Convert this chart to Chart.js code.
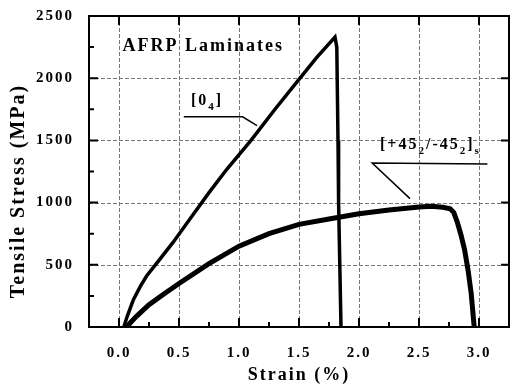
<!DOCTYPE html>
<html>
<head>
<meta charset="utf-8">
<script src="https://cdn.jsdelivr.net/npm/chart.js@4.4.0/dist/chart.umd.min.js"></script>
<style>
  html, body { margin: 0; padding: 0; background: #fff; }
</style>
</head>
<body>
<canvas id="myChart" width="510" height="387"></canvas>
<script>
// [0_4] laminate
const strain0 = [0.04, 0.07, 0.12, 0.18, 0.23, 0.32, 0.45, 0.6, 0.75, 0.9, 1.1, 1.3, 1.5, 1.65, 1.8, 1.815, 1.825, 1.83, 1.84, 1.85];
const stress0 = [0, 90, 220, 330, 410, 520, 680, 880, 1080, 1270, 1500, 1750, 1990, 2170, 2330, 2250, 1500, 1000, 500, 0];

// [+45_2/-45_2]_s laminate
const strain45 = [0.065, 0.1, 0.15, 0.25, 0.38, 0.5, 0.75, 1.0, 1.25, 1.5, 1.75, 2.0, 2.25, 2.5, 2.6, 2.7, 2.76, 2.79, 2.82, 2.85, 2.88, 2.91, 2.935, 2.96];
const stress45 = [0, 40, 90, 180, 270, 350, 510, 650, 750, 825, 868, 910, 940, 965, 970, 963, 950, 920, 840, 740, 620, 450, 270, 0];

const xTicks = [0, 0.5, 1.0, 1.5, 2.0, 2.5, 3.0];
const yTicks = [0, 500, 1000, 1500, 2000, 2500];

const serif = '"Liberation Serif", "Times New Roman", serif';

function points(xs, ys) {
  return xs.map((v, i) => ({x: v, y: ys[i]}));
}

// text with subscripts, drawn piece by piece
function drawParts(ctx, parts, x, y) {
  parts.forEach(p => {
    ctx.font = 'bold ' + p[1] + 'px ' + serif;
    ctx.fillText(p[0], x, y + p[2]);
    x += ctx.measureText(p[0]).width;
  });
}

const frame = {
  id: 'frame',
  beforeUpdate(chart) { chart.ctx.letterSpacing = '2px'; },
  beforeDraw(chart) { chart.ctx.letterSpacing = '2px'; },
  beforeDatasetsDraw(chart) {
    // dotted grid at the major ticks (dashes drawn by hand)
    const {ctx, chartArea: a, scales: {x, y}} = chart;
    ctx.save();
    ctx.fillStyle = '#777';
    xTicks.forEach(v => {
      const px = Math.round(x.getPixelForValue(v));
      for (let py = a.top; py < a.bottom; py += 6) ctx.fillRect(px, py, 1, 4);
    });
    yTicks.slice(1, -1).forEach(v => {
      const py = Math.round(y.getPixelForValue(v));
      for (let px = a.left; px < a.right; px += 6) ctx.fillRect(px, py, 4, 1);
    });
    ctx.restore();
  },
  afterDraw(chart) {
    const {ctx, chartArea: a, scales: {x, y}} = chart;
    ctx.save();
    ctx.strokeStyle = '#000';
    ctx.fillStyle = '#000';
    ctx.lineWidth = 2;
    ctx.strokeRect(a.left, a.top, a.right - a.left, a.bottom - a.top);

    // inward ticks
    ctx.lineWidth = 2;
    ctx.beginPath();
    for (let i = 0; i < xTicks.length; i++) {
      const px = x.getPixelForValue(xTicks[i]);
      ctx.moveTo(px, a.bottom); ctx.lineTo(px, a.bottom - 9);
      ctx.moveTo(px, a.top); ctx.lineTo(px, a.top + 9);
      if (i < xTicks.length - 1) {
        const pm = x.getPixelForValue((xTicks[i] + xTicks[i + 1]) / 2);
        ctx.moveTo(pm, a.bottom); ctx.lineTo(pm, a.bottom - 5);
      }
    }
    for (let i = 0; i < yTicks.length; i++) {
      const py = y.getPixelForValue(yTicks[i]);
      ctx.moveTo(a.left, py); ctx.lineTo(a.left + 9, py);
      ctx.moveTo(a.right, py); ctx.lineTo(a.right - 8, py);
      if (i < yTicks.length - 1) {
        const pm = y.getPixelForValue((yTicks[i] + yTicks[i + 1]) / 2);
        ctx.moveTo(a.left, pm); ctx.lineTo(a.left + 5, pm);
      }
    }
    ctx.stroke();

    // y axis title
    ctx.save();
    ctx.translate(18.5, 191);
    ctx.rotate(-Math.PI / 2);
    ctx.font = 'bold 20px ' + serif;
    ctx.textAlign = 'center';
    ctx.textBaseline = 'middle';
    ctx.fillText('Tensile Stress (MPa)', 0, 0);
    ctx.restore();

    // annotations
    ctx.textBaseline = 'middle';
    ctx.textAlign = 'left';
    ctx.font = 'bold 18px ' + serif;
    ctx.fillText('AFRP Laminates', x.getPixelForValue(0.03), y.getPixelForValue(2254));

    drawParts(ctx, [['[0', 16, 0], ['4', 11, 6], [']', 16, 0]],
      x.getPixelForValue(0.6), y.getPixelForValue(1817));
    drawParts(ctx, [['[+45', 16, 0], ['2', 11, 7], ['/-45', 16, 0], ['2', 11, 7], [']', 16, 0], ['s', 11, 7]],
      x.getPixelForValue(2.175), y.getPixelForValue(1468));

    ctx.lineWidth = 1.5;
    ctx.beginPath();
    ctx.moveTo(x.getPixelForValue(0.54), y.getPixelForValue(1690));
    ctx.lineTo(x.getPixelForValue(1.03), y.getPixelForValue(1690));
    ctx.lineTo(x.getPixelForValue(1.15), y.getPixelForValue(1619));
    ctx.moveTo(x.getPixelForValue(3.07), y.getPixelForValue(1310));
    ctx.lineTo(x.getPixelForValue(2.11), y.getPixelForValue(1318));
    ctx.lineTo(x.getPixelForValue(2.425), y.getPixelForValue(1032));
    ctx.stroke();
    ctx.restore();
  }
};

const ctx = document.getElementById('myChart');

new Chart(ctx, {
  type: 'line',
  data: {
    datasets: [{
      label: '[0_4]',
      data: points(strain0, stress0),
      borderColor: '#000',
      borderWidth: 3.5,
      pointRadius: 0,
      tension: 0
    }, {
      label: '[+45_2/-45_2]_s',
      data: points(strain45, stress45),
      borderColor: '#000',
      borderWidth: 5,
      pointRadius: 0,
      tension: 0
    }]
  },
  options: {
    responsive: false,
    animation: false,
    layout: { padding: { top: 12, right: 1, left: 0, bottom: 0 } },
    plugins: { legend: { display: false }, tooltip: { enabled: false } },
    scales: {
      x: {
        type: 'linear',
        min: -0.25,
        max: 3.25,
        afterBuildTicks: s => { s.ticks = xTicks.map(v => ({value: v})); },
        afterFit: s => { s.height = 60; },
        ticks: {
          color: '#000',
          padding: 9,
          font: { family: serif, size: 15, weight: 'bold' },
          callback: v => v.toFixed(1)
        },
        grid: { display: false },
        border: { display: false },
        title: {
          display: true,
          text: 'Strain (%)',
          color: '#000',
          padding: { top: 0, bottom: 1 },
          font: { family: serif, size: 18, weight: 'bold' }
        }
      },
      y: {
        min: 0,
        max: 2500,
        afterBuildTicks: s => { s.ticks = yTicks.map(v => ({value: v})); },
        afterFit: s => { s.width = 89; },
        ticks: {
          color: '#000',
          padding: 7,
          font: { family: serif, size: 15, weight: 'bold' },
          callback: v => String(v)
        },
        grid: { display: false },
        border: { display: false }
      }
    }
  },
  plugins: [frame]
});
</script>
</body>
</html>
